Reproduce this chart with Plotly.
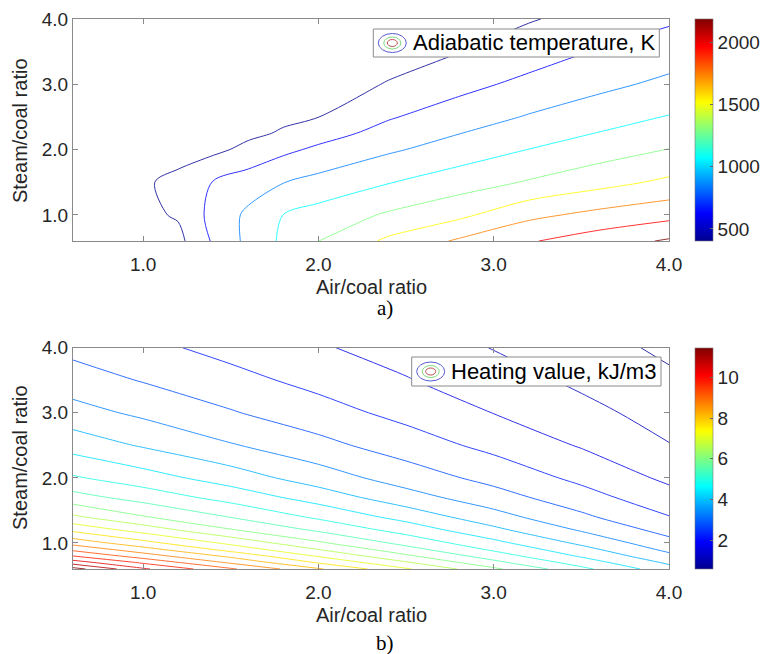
import plotly.graph_objects as go

# ---------------- data ----------------
# a) Adiabatic temperature, K
air_T = [0.6, 1.0, 1.2, 1.4, 1.6, 1.8, 2.0, 2.4, 2.8, 3.2, 3.6, 4.0]
steam_T = [0.6, 1.0, 1.5, 2.0, 2.25, 2.5, 3.0, 3.5, 4.0]
temp_K = [
    [405, 425, 445, 724, 952, 1138, 1298, 1539, 1727, 1883, 2001, 2125],
    [410, 455, 520, 764, 940, 1102, 1177, 1325, 1452, 1650, 1756, 1835],
    [410, 480, 540, 709, 802, 895, 961, 1090, 1204, 1317, 1430, 1540],
    [405, 420, 440, 455, 550, 655, 738, 871, 989, 1103, 1204, 1305],
    [403, 412, 425, 440, 460, 520, 617, 770, 895, 1002, 1107, 1200],
    [403, 410, 420, 430, 445, 465, 498, 682, 803, 915, 1014, 1110],
    [403, 405, 410, 415, 425, 440, 460, 505, 638, 752, 851, 945],
    [403, 404, 406, 410, 415, 425, 440, 465, 495, 602, 717, 805],
    [403, 403, 404, 405, 410, 415, 425, 440, 460, 485, 572, 669],
]
temp_levels = [500, 2100, 200]          # start, end, step
temp_range = [403, 2190]                # colour-bar limits
temp_ticks = [500, 1000, 1500, 2000]

# b) Heating value, kJ/m3
air_H = [0.6, 1.0, 1.5, 2.0, 2.5, 3.0, 3.5, 4.0]
steam_H = [0.6, 0.7, 0.8, 0.9, 1.0, 1.2, 1.4, 1.7, 2.0, 2.5, 3.0, 3.5, 4.0]
heat_val = [
    [11.2, 10.08, 9.07, 8.06, 7.06, 6.10, 5.13, 4.19],
    [10.25, 9.41, 8.42, 7.45, 6.55, 5.64, 4.77, 3.91],
    [9.5, 8.75, 7.88, 6.95, 6.09, 5.25, 4.44, 3.63],
    [8.88, 8.2, 7.32, 6.5, 5.69, 4.92, 4.17, 3.38],
    [8.32, 7.67, 6.88, 6.08, 5.35, 4.64, 3.90, 3.17],
    [7.38, 6.79, 6.04, 5.42, 4.8, 4.12, 3.45, 2.82],
    [6.59, 6.04, 5.48, 4.91, 4.32, 3.69, 3.10, 2.52],
    [5.69, 5.30, 4.81, 4.28, 3.70, 3.21, 2.70, 2.18],
    [5.06, 4.72, 4.26, 3.75, 3.27, 2.84, 2.38, 1.90],
    [4.29, 3.95, 3.54, 3.15, 2.75, 2.36, 1.96, 1.52],
    [3.69, 3.40, 3.04, 2.70, 2.35, 1.99, 1.65, 1.30],
    [3.23, 2.97, 2.66, 2.35, 2.03, 1.73, 1.40, 1.09],
    [2.86, 2.63, 2.34, 2.05, 1.80, 1.48, 1.21, 0.90],
]
heat_levels = [1.0, 11.0, 0.5]
heat_range = [0.59, 11.45]
heat_ticks = [2, 4, 6, 8, 10]

axis_ticks = [1.0, 2.0, 3.0, 4.0]
axis_range = [0.6, 4.0]

# ---------------- styling ----------------
W, H = 766, 654
ML, MR, MT, MB = 73, 97, 19, 85          # plot area = px 73..669 x 19..569
PW, PH = W - ML - MR, H - MT - MB
FONT = "Liberation Sans, Arial, Helvetica, sans-serif"
SERIF = "Liberation Serif, Times New Roman, serif"
TXT = "#262626"
AXC = "#8a8a8a"

jet = [[0.0, "rgb(0,0,143)"], [0.125, "rgb(0,0,255)"], [0.375, "rgb(0,255,255)"],
       [0.625, "rgb(255,255,0)"], [0.875, "rgb(255,0,0)"], [1.0, "rgb(128,0,0)"]]


def X(p):
    return (p - ML) / PW


def Y(p):
    return (H - MB - p) / PH


fig = go.Figure()

panels = [
    dict(x=air_T, y=steam_T, z=temp_K, lev=temp_levels, rng=temp_range, ticks=temp_ticks,
         xa="x", ya="y", top=19, bot=241),
    dict(x=air_H, y=steam_H, z=heat_val, lev=heat_levels, rng=heat_range, ticks=heat_ticks,
         xa="x2", ya="y2", top=347.7, bot=569),
]

for p in panels:
    fig.add_trace(go.Contour(
        x=p["x"], y=p["y"], z=p["z"], xaxis=p["xa"], yaxis=p["ya"],
        zmin=p["rng"][0], zmax=p["rng"][1], colorscale=jet, opacity=0.8,
        contours=dict(start=p["lev"][0], end=p["lev"][1], size=p["lev"][2], coloring="lines"),
        line=dict(width=1, smoothing=0.9), showscale=False, hoverinfo="skip"))
    # continuous colour bar
    fig.add_trace(go.Heatmap(
        x=p["x"], y=p["y"], z=p["z"], xaxis=p["xa"], yaxis=p["ya"],
        zmin=p["rng"][0], zmax=p["rng"][1], colorscale=jet, opacity=0, hoverinfo="skip",
        showscale=True,
        colorbar=dict(x=X(695), xanchor="left", xpad=0, ypad=0, thickness=18,
                      len=(p["bot"] - p["top"]) / PH, lenmode="fraction",
                      y=Y((p["top"] + p["bot"]) / 2), yanchor="middle",
                      tickvals=p["ticks"], ticks="inside", ticklen=3, tickcolor="#666",
                      outlinewidth=0.6, outlinecolor="#777",
                      tickfont=dict(family=FONT, size=19, color=TXT))))

axcommon = dict(range=axis_range, tickvals=axis_ticks, tickformat=".1f", showgrid=False,
                zeroline=False, showline=True, linecolor=AXC, linewidth=1, mirror="ticks",
                ticks="inside", ticklen=5, tickcolor=AXC, automargin=False,
                tickfont=dict(family=FONT, size=19, color=TXT))

fig.update_layout(
    width=W, height=H, margin=dict(l=ML, r=MR, t=MT, b=MB, autoexpand=False),
    paper_bgcolor="white", plot_bgcolor="white", showlegend=False,
    xaxis=dict(domain=[0, 1], anchor="y", ticklabelstandoff=6, **axcommon),
    yaxis=dict(domain=[Y(241), 1], anchor="x", **axcommon),
    xaxis2=dict(domain=[0, 1], anchor="y2", ticklabelstandoff=6, **axcommon),
    yaxis2=dict(domain=[0, Y(347.7)], anchor="x2", **axcommon),
)

ann = []
shapes = []
for lbl_y, ttl_y, tag_y, tag in [(131, 287, 308, "a)"), (458, 615, 643, "b)")]:
    ann.append(dict(text="Steam/coal ratio", x=X(20), y=Y(lbl_y), xref="paper", yref="paper",
                    xanchor="center", yanchor="middle",
                    textangle=-90, showarrow=False, font=dict(family=FONT, size=20, color=TXT)))
    ann.append(dict(text="Air/coal ratio", x=X(371), y=Y(ttl_y), xref="paper", yref="paper",
                    xanchor="center", yanchor="middle",
                    showarrow=False, font=dict(family=FONT, size=20, color=TXT)))
    ann.append(dict(text=tag, x=X(385), y=Y(tag_y), xref="paper", yref="paper",
                    xanchor="center", yanchor="middle",
                    showarrow=False, font=dict(family=SERIF, size=21, color="black")))

legends = [("Adiabatic temperature, K", 373.3, 659.3, 29, 57),
           ("Heating value, kJ/m3", 411.7, 661, 357, 386)]
for text, x0, x1, y0, y1 in legends:
    cy = (y0 + y1) / 2
    shapes.append(dict(type="rect", xref="paper", yref="paper", x0=X(x0), x1=X(x1),
                       y0=Y(y1), y1=Y(y0), fillcolor="white", line=dict(color="#8a8a8a", width=1),
                       layer="above"))
    cx = x0 + 19
    for rx, ry, col in [(14, 9.5, "#5a5ad0"), (8.5, 6, "#7fd87f"), (5, 3.5, "#c05050")]:
        shapes.append(dict(type="circle", xref="paper", yref="paper",
                           x0=X(cx - rx), x1=X(cx + rx), y0=Y(cy + ry), y1=Y(cy - ry),
                           line=dict(color=col, width=1), layer="above"))
    ann.append(dict(text=text, x=X(x0 + 37.5), y=Y(cy), xref="paper", yref="paper",
                    xanchor="left", yanchor="middle", showarrow=False,
                    font=dict(family=FONT, size=22, color="black")))

fig.update_layout(annotations=ann, shapes=shapes)
fig.write_html("out.html", config={"displayModeBar": False},
               post_script="document.body.style.margin='0';document.body.style.overflow='hidden';")
